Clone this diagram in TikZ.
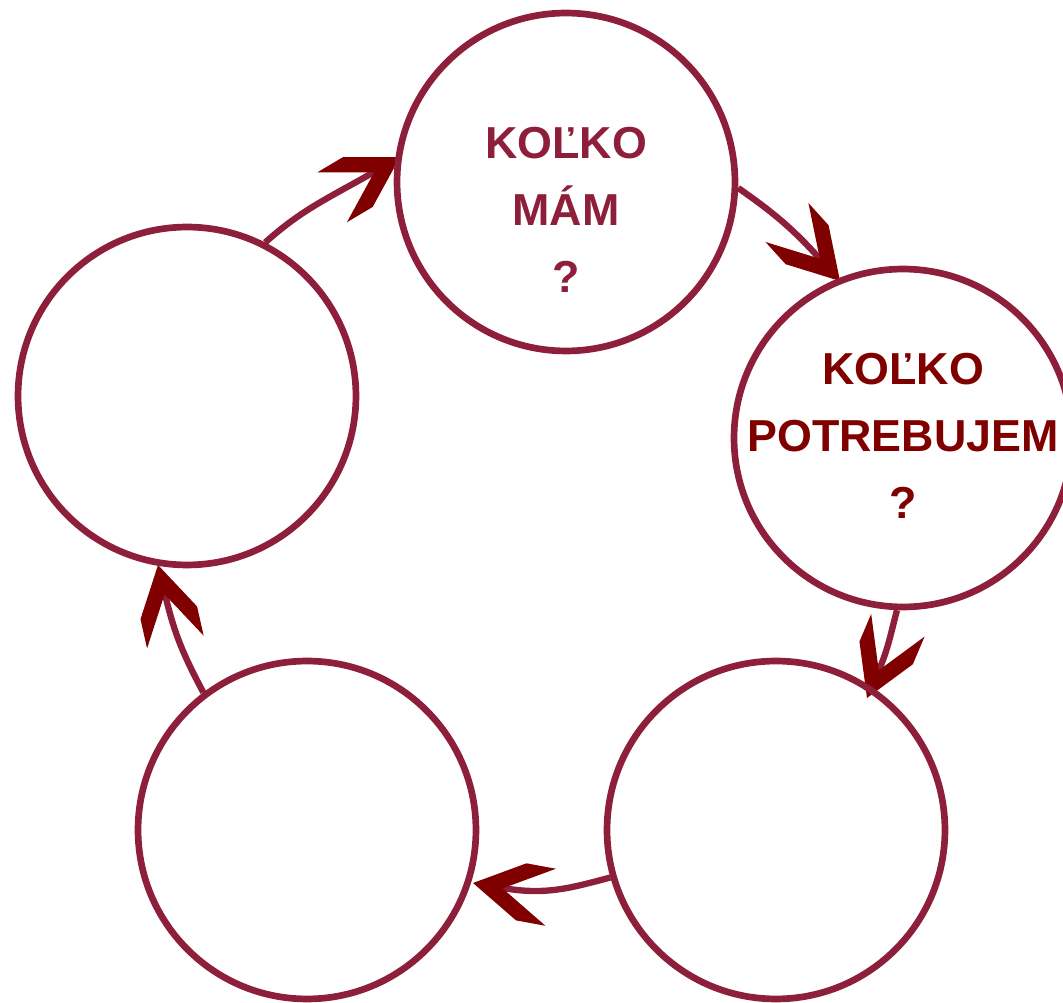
\documentclass[tikz,border=0pt]{standalone}
\usepackage{fontspec}
\setmainfont{Liberation Sans}
\usetikzlibrary{backgrounds}
\definecolor{ring}{HTML}{8E1F3A}
\definecolor{head}{HTML}{800000}
\tikzset{
  ringnode/.style={circle, draw=ring, line width=3.8pt, minimum size=6.76cm, inner sep=0pt},
  conn/.style={draw=ring, line width=3.6pt},
  chev/.pic={\fill[head] (0,0) -- (-49,29) -- (-79,29) -- (-30,0) -- (-79,-29) -- (-49,-29) -- cycle;},
  lbl/.style={font=\bfseries\fontsize{25.5}{38}\selectfont, align=center}
}
\begin{document}
\begin{tikzpicture}[x=0.02cm,y=-0.02cm]
\useasboundingbox (0,0) rectangle (1063,1003);
\node[ringnode] (T) at (566,182) {};
\node[ringnode] (R) at (903,438) {};
\node[ringnode] (BR) at (776,830) {};
\node[ringnode] (BL) at (307,830) {};
\node[ringnode] (L) at (187,396) {};
\node[lbl, text=ring] (tT) at (566,210) {KOĽKO\\MÁM\\?};
\node[lbl, text=head] (tR) at (903,436) {KOĽKO\\POTREBUJEM\\?};
\coordinate (n1) at (374,172);
\coordinate (n2) at (820,259);
\coordinate (n3) at (879,670);
\coordinate (n4) at (503,888);
\coordinate (n5) at (165,594);
\coordinate (h1) at (400,157);
\coordinate (h2) at (840,281);
\coordinate (h3) at (867,698);
\coordinate (h4) at (473,883);
\coordinate (h5) at (158,565);
\begin{scope}[on background layer]
\draw[conn] (L.63) to[out=42, in=210] (n1);
\draw[conn] (T.-2) to[out=-35, in=132] (n2);
\draw[conn] (R.-92) to[out=-105, in=67] (n3);
\draw[conn] (BR.196) to[out=195, in=-10] (n4);
\draw[conn] (BL.127) to[out=118, in=-77] (n5);
\pic[rotate=30.7] at (h1) {chev};
\pic[rotate=-47.8] at (h2) {chev};
\pic[rotate=-113] at (h3) {chev};
\pic[rotate=169.6] at (h4) {chev};
\pic[rotate=102.7] at (h5) {chev};
\end{scope}
\end{tikzpicture}
\end{document}
